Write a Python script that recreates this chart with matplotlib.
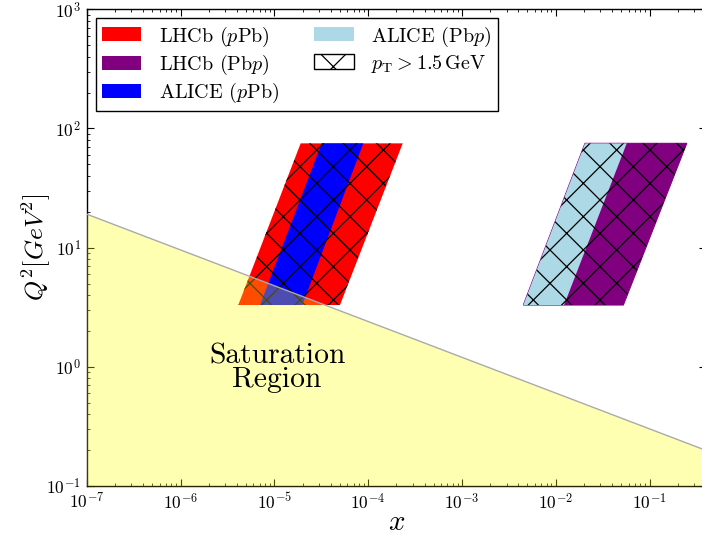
import numpy as np
import matplotlib
matplotlib.use("Agg")
import matplotlib.pyplot as plt
from matplotlib.patches import Polygon, Patch

DPI = 100
K = 100.0 / DPI

plt.rcParams["font.family"] = "serif"
plt.rcParams["font.serif"] = ["cmr10", "DejaVu Serif"]
plt.rcParams["mathtext.fontset"] = "cm"
plt.rcParams["axes.unicode_minus"] = False
plt.rcParams["axes.formatter.use_mathtext"] = True
plt.rcParams["hatch.linewidth"] = 0.9 * K

# Kinematic coverage bands: Q^2 limits and log10(x) of the left/right edges
# at the lower and upper Q^2 limit.
q2_range = [3.3, 75.0]

band_names = ["LHCb ($p$Pb)", "ALICE ($p$Pb)", "LHCb (Pb$p$)", "ALICE (Pb$p$)"]
band_colors = ["red", "blue", "purple", "lightblue"]
logx_left_low = [-5.384, -5.152, -2.345, -2.345]
logx_right_low = [-4.300, -4.701, -1.279, -1.911]
logx_left_high = [-4.719, -4.495, -1.688, -1.688]
logx_right_high = [-3.631, -4.051, -0.603, -1.243]

# Saturation scale line Q_s^2(x)
sat_x = [1e-7, 1.0]
sat_q2 = [19.1, 0.151]

hatch_label = r"$p_{\mathrm{T}} > 1.5\,\mathrm{GeV}$"

fig = plt.figure(figsize=(702 / DPI, 543 / DPI), dpi=DPI)
ax = fig.add_axes([0.1235, 0.105, 0.8822, 0.8779])
ax.set_xscale("log")
ax.set_yscale("log")
ax.set_xlim(1e-7, 0.4)
ax.set_ylim(0.1, 1000)


def band_vertices(i):
    return [
        (10 ** logx_left_low[i], q2_range[0]),
        (10 ** logx_right_low[i], q2_range[0]),
        (10 ** logx_right_high[i], q2_range[1]),
        (10 ** logx_left_high[i], q2_range[1]),
    ]


handles = {}
for i, (name, col) in enumerate(zip(band_names, band_colors)):
    ec = col if col == "purple" else "none"
    poly = Polygon(band_vertices(i), closed=True, facecolor=col,
                   edgecolor=ec, linewidth=0.8 * K, zorder=2 + (i % 2))
    ax.add_patch(poly)
    handles[name] = Patch(facecolor=col, edgecolor="none", label=name)

# cross hatching over the full LHCb bands (which contain the ALICE ones)
for i in (0, 2):
    hp = Polygon(band_vertices(i), closed=True, facecolor="none",
                 edgecolor="black", linewidth=0, hatch="x", zorder=4)
    ax.add_patch(hp)

# saturation region
ax.fill_between(sat_x, [0.1, 0.1], sat_q2, color="yellow", alpha=0.3,
                linewidth=0, zorder=5)
ax.plot(sat_x, sat_q2, color="#aaaaaa", linewidth=1.0 * K, zorder=6)

ax.text(1.07e-5, 0.98, "Saturation\nRegion", ha="center", va="center",
        fontsize=21.3 * K, linespacing=0.85, zorder=7)

ax.set_xlabel("$x$", fontsize=21 * K, labelpad=-2 * K)
ax.set_ylabel(r"$Q^2[GeV^2]$", fontsize=18.5 * K, labelpad=-4.8 * K)

ax.tick_params(which="both", direction="in", top=True, right=True,
               labelsize=12.5 * K, pad=4 * K)
ax.tick_params(which="major", length=5 * K, width=0.8 * K)
ax.tick_params(which="minor", length=2.5 * K, width=0.6 * K)
for s in ax.spines.values():
    s.set_linewidth(1.0 * K)

hatch_handle = Patch(facecolor="white", edgecolor="black", hatch="x",
                     linewidth=1.0 * K, label=hatch_label)
leg_handles = [handles["LHCb ($p$Pb)"], handles["LHCb (Pb$p$)"],
               handles["ALICE ($p$Pb)"], handles["ALICE (Pb$p$)"],
               hatch_handle]
leg = ax.legend(handles=leg_handles, loc="upper left", ncol=2,
                fontsize=14.5 * K, fancybox=False, framealpha=1.0,
                edgecolor="black", borderaxespad=0.45, borderpad=0.3,
                handlelength=1.95, handletextpad=0.87, columnspacing=1.75,
                labelspacing=0.2)
leg.get_frame().set_linewidth(1.0 * K)
leg.set_zorder(10)

fig.savefig("out.png", dpi=DPI)
